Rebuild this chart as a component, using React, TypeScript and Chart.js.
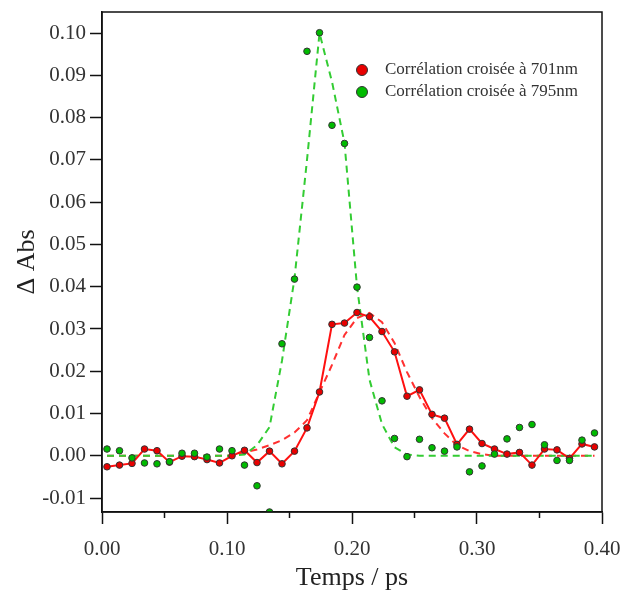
import React, { useEffect, useRef } from 'react';
import { Chart, registerables } from 'chart.js';

Chart.register(...registerables);

// Time axis (ps)
const times = [
  0.004, 0.014, 0.024, 0.034, 0.044, 0.054, 0.064, 0.074, 0.084, 0.094,
  0.104, 0.114, 0.124, 0.134, 0.144, 0.154, 0.164, 0.174, 0.184, 0.194,
  0.204, 0.214, 0.224, 0.234, 0.244, 0.254, 0.264, 0.274, 0.284, 0.294,
  0.304, 0.314, 0.324, 0.334, 0.344, 0.354, 0.364, 0.374, 0.384, 0.394,
];

// Cross-correlation at 701 nm (measured)
const red701 = [
  -0.0026, -0.0022, -0.0018, 0.0016, 0.0012, -0.0015, -0.0001, -0.0002, -0.0009, -0.0017,
  0.0000, 0.0013, -0.0016, 0.0011, -0.0019, 0.0011, 0.0066, 0.0151, 0.0311, 0.0314,
  0.0339, 0.0329, 0.0294, 0.0246, 0.0141, 0.0156, 0.0098, 0.0089, 0.0027, 0.0063,
  0.0029, 0.0016, 0.0004, 0.0008, -0.0022, 0.0016, 0.0014, -0.0006, 0.0028, 0.0021,
];

// Cross-correlation at 795 nm (measured)
const green795 = [
  0.0016, 0.0012, -0.0005, -0.0017, -0.0019, -0.0014, 0.0006, 0.0006, -0.0003, 0.0016,
  0.0012, -0.0022, -0.0071, -0.0133, 0.0265, 0.0418, 0.0957, 0.1001, 0.0782, 0.0739,
  0.0399, 0.0280, 0.0130, 0.0041, -0.0002, 0.0039, 0.0019, 0.0011, 0.0021, -0.0038,
  -0.0024, 0.0004, 0.0040, 0.0067, 0.0074, 0.0026, -0.0011, -0.0011, 0.0037, 0.0054,
];

// Fits (dashed)
const red701Fit = [
  0, 0, 0, 0, 0, 0, 0, 0, 0, 0,
  0, 0.0008, 0.0015, 0.0025, 0.0037, 0.0055, 0.0084, 0.0150, 0.0215, 0.0286,
  0.0326, 0.0338, 0.0316, 0.0267, 0.0198, 0.0139, 0.0089, 0.0053, 0.0025, 0.0011,
  0.0004, 0, 0, 0, 0, 0, 0, 0, 0, 0,
];

const green795Fit = [
  0, 0, 0, 0, 0, 0, 0, 0, 0, 0,
  0, 0.0003, 0.0025, 0.0068, 0.0225, 0.0420, 0.0700, 0.1000, 0.0885, 0.0740,
  0.0400, 0.0180, 0.0075, 0.0020, 0.0003, 0, 0, 0, 0, 0,
  0, 0, 0, 0, 0, 0, 0, 0, 0, 0,
];

const xTickValues = [0, 0.05, 0.1, 0.15, 0.2, 0.25, 0.3, 0.35, 0.4];
const legendLabels = ['Corrélation croisée à 701nm', 'Corrélation croisée à 795nm'];

const FONT = '"Liberation Serif", "DejaVu Serif", serif';
const RED = '#ff1010';
const RED_PT = '#e80000';
const GREEN_PT = '#00bb00';
const GREEN_LINE = '#33cc33';
const RED_DASH = '#ff3030';

const isMajorX = (v: number) => Math.abs(Math.round(v * 100) % 10) === 0;

const framePlugin = {
  id: 'frameAndLegend',
  afterDraw(chart: any) {
    const { ctx, chartArea } = chart;
    const { left, top, right, bottom } = chartArea;
    ctx.save();
    ctx.strokeStyle = '#111';
    ctx.lineWidth = 1.5;
    ctx.strokeRect(left, top, right - left, bottom - top);
    // minor x ticks
    const xs = chart.scales.x;
    xs.ticks.forEach((t: any) => {
      if (!isMajorX(t.value)) {
        const px = xs.getPixelForValue(t.value);
        ctx.beginPath();
        ctx.moveTo(px, bottom);
        ctx.lineTo(px, bottom + 6);
        ctx.stroke();
      }
    });
    // legend
    const w = right - left;
    const lx = left + w * 0.52;
    const ly = top + 58;
    const fills = [RED_PT, GREEN_PT];
    legendLabels.forEach((lab, i) => {
      const y = ly + i * 22;
      ctx.beginPath();
      ctx.arc(lx, y, 5.5, 0, Math.PI * 2);
      ctx.fillStyle = fills[i];
      ctx.fill();
      ctx.lineWidth = 1;
      ctx.strokeStyle = '#333';
      ctx.stroke();
      ctx.fillStyle = '#333';
      ctx.font = `17px ${FONT}`;
      ctx.textBaseline = 'middle';
      ctx.textAlign = 'left';
      ctx.fillText(lab, lx + 23, y);
    });
    ctx.restore();
  },
};

export default function App() {
  const ref = useRef<HTMLCanvasElement | null>(null);

  useEffect(() => {
    if (!ref.current) return;
    const pts = (ys: number[]) => times.map((t, i) => ({ x: t, y: ys[i] }));
    const chart = new Chart(ref.current, {
      type: 'line',
      data: {
        datasets: [
          {
            label: legendLabels[1],
            data: pts(green795),
            showLine: false,
            pointRadius: 3.3,
            pointBackgroundColor: GREEN_PT,
            pointBorderColor: '#333',
            pointBorderWidth: 1,
            order: 1,
          },
          {
            label: legendLabels[0],
            data: pts(red701),
            showLine: true,
            borderColor: RED,
            borderWidth: 2,
            tension: 0,
            pointRadius: 3.3,
            pointBackgroundColor: RED_PT,
            pointBorderColor: '#333',
            pointBorderWidth: 1,
            order: 2,
          },
          {
            label: 'fit 795',
            data: pts(green795Fit),
            showLine: true,
            borderColor: GREEN_LINE,
            borderWidth: 2,
            borderDash: [7, 5],
            pointRadius: 0,
            tension: 0,
            order: 3,
          },
          {
            label: 'fit 701',
            data: pts(red701Fit),
            showLine: true,
            borderColor: RED_DASH,
            borderWidth: 2,
            borderDash: [7, 5],
            pointRadius: 0,
            tension: 0,
            order: 4,
          },
        ],
      },
      options: {
        animation: false,
        responsive: false,
        maintainAspectRatio: false,
        layout: { padding: { top: 12, right: 18, left: 0, bottom: 0 } },
        plugins: {
          legend: { display: false },
          tooltip: { enabled: false },
        },
        scales: {
          x: {
            type: 'linear',
            min: 0,
            max: 0.4,
            afterBuildTicks: (s: any) => {
              s.ticks = xTickValues.map((v) => ({ value: v }));
            },
            afterFit: (s: any) => {
              s.height = 80;
              s.paddingLeft = 0;
              s.paddingRight = 0;
            },
            ticks: {
              autoSkip: false,
              maxRotation: 0,
              padding: 13,
              color: '#333',
              font: { family: FONT, size: 21 },
              callback: (v: any) => (isMajorX(Number(v)) ? Number(v).toFixed(2) : ''),
            },
            grid: {
              display: true,
              drawOnChartArea: false,
              drawTicks: true,
              tickLength: 12,
              tickWidth: 1.5,
              tickColor: (c: any) => (c.tick && isMajorX(c.tick.value) ? '#111' : 'rgba(0,0,0,0)'),
            },
            border: { display: true, color: '#111', width: 1.5 },
            title: {
              display: true,
              text: 'Temps / ps',
              color: '#222',
              font: { family: FONT, size: 26, lineHeight: 1.1 },
              padding: { top: 0, bottom: 0 },
            },
          },
          y: {
            type: 'linear',
            min: -0.0133,
            max: 0.105,
            afterFit: (s: any) => {
              s.width = 102;
              s.paddingTop = 0;
              s.paddingBottom = 0;
            },
            ticks: {
              stepSize: 0.01,
              includeBounds: false,
              padding: 4,
              color: '#333',
              font: { family: FONT, size: 21 },
              callback: (v: any) => {
                const n = Math.abs(Number(v)) < 1e-9 ? 0 : Number(v);
                return n.toFixed(2);
              },
            },
            grid: {
              display: true,
              drawOnChartArea: false,
              drawTicks: true,
              tickLength: 12,
              tickWidth: 1.5,
              tickColor: '#111',
            },
            border: { display: true, color: '#111', width: 1.5 },
            title: {
              display: true,
              text: 'Δ Abs',
              color: '#222',
              font: { family: FONT, size: 26, lineHeight: 1.1 },
              padding: { top: 13, bottom: 0 },
            },
          },
        },
      },
      plugins: [framePlugin],
    });
    return () => chart.destroy();
  }, []);

  return (
    <div style={{ position: 'absolute', left: 0, top: 0, width: 620, height: 592, background: '#fff' }}>
      <canvas ref={ref} width={620} height={592} style={{ width: 620, height: 592, display: 'block' }} />
    </div>
  );
}
